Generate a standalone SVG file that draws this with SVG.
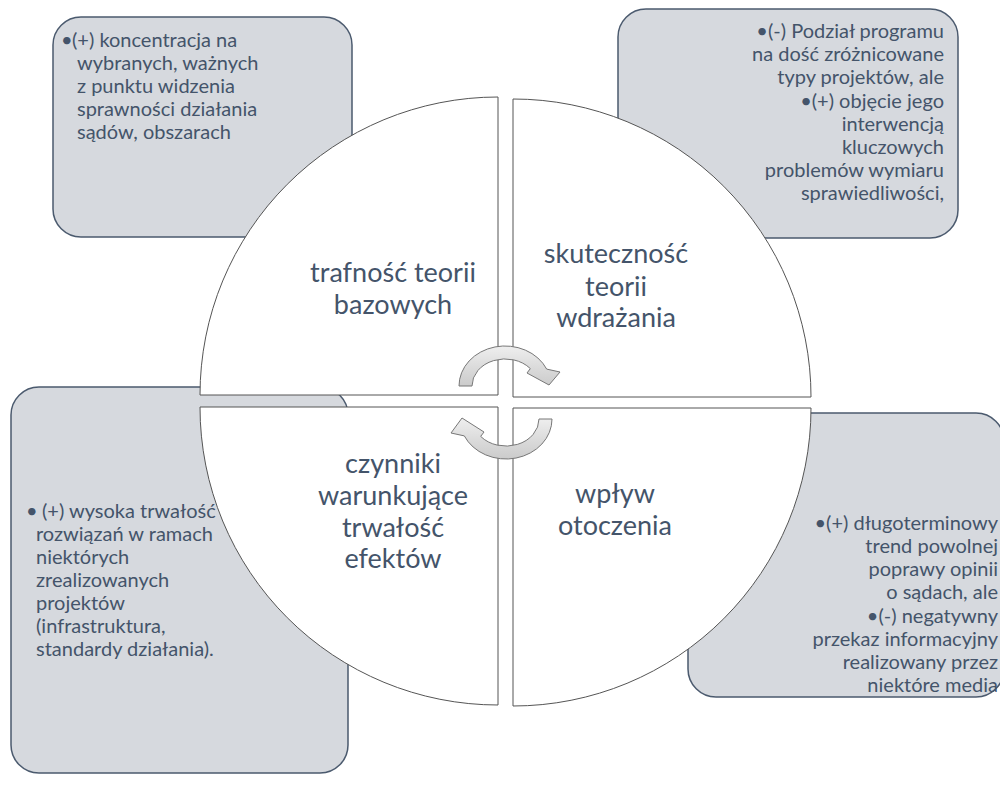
<svg xmlns="http://www.w3.org/2000/svg" width="1000" height="787" viewBox="0 0 1000 787">
<style>
.box{fill:#D6D9DE;stroke:#4B5A6E;stroke-width:1.5}
.quad{fill:#FFFFFF;stroke:#555555;stroke-width:1}
.arrow{fill:url(#ag);stroke:#777777;stroke-width:1}
.t{font-family:Lato,"Liberation Sans",sans-serif;font-size:20px;fill:#44546A}
.lbl{font-family:Lato,"Liberation Sans",sans-serif;font-size:27px;fill:#44546A;text-anchor:middle}
.r{text-anchor:end}
</style>
<defs>
<linearGradient id="ag" x1="0" y1="0" x2="0" y2="1">
<stop offset="0" stop-color="#EFEFEF"/>
<stop offset="0.5" stop-color="#DCDCDC"/>
<stop offset="1" stop-color="#CBCBCB"/>
</linearGradient>
</defs>
<rect width="1000" height="787" fill="#FFFFFF"/>
<g id="box-tl"><rect class="box" x="53" y="17" width="299" height="220" rx="28"/>
<text class="t" x="61" y="47">•</text>
<text class="t" x="72" y="47">(+) koncentracja na</text>
<text class="t" x="77" y="70">wybranych, ważnych</text>
<text class="t" x="77" y="93">z punktu widzenia</text>
<text class="t" x="77" y="116">sprawności działania</text>
<text class="t" x="77" y="139">sądów, obszarach</text>
</g>
<g id="box-tr"><rect class="box" x="618" y="9" width="340" height="229" rx="28"/>
<text class="t r" x="944" y="38">•(-) Podział programu</text>
<text class="t r" x="944" y="61">na dość zróżnicowane</text>
<text class="t r" x="944" y="84">typy projektów, ale</text>
<text class="t r" x="944" y="108">•(+) objęcie jego</text>
<text class="t r" x="944" y="131">interwencją</text>
<text class="t r" x="944" y="154">kluczowych</text>
<text class="t r" x="944" y="177">problemów wymiaru</text>
<text class="t r" x="944" y="200">sprawiedliwości,</text>
</g>
<g id="box-bl"><rect class="box" x="11" y="387" width="337" height="386" rx="28"/>
<text class="t" x="26" y="518">•</text>
<text class="t" x="42" y="518">(+) wysoka trwałość</text>
<text class="t" x="36" y="541">rozwiązań w ramach</text>
<text class="t" x="36" y="564">niektórych</text>
<text class="t" x="36" y="587">zrealizowanych</text>
<text class="t" x="36" y="610">projektów</text>
<text class="t" x="36" y="633">(infrastruktura,</text>
<text class="t" x="36" y="656">standardy działania).</text>
</g>
<g id="box-br"><rect class="box" x="688" y="413" width="316" height="284" rx="28"/>
<text class="t r" x="998" y="530">•(+) długoterminowy</text>
<text class="t r" x="998" y="553">trend powolnej</text>
<text class="t r" x="998" y="576">poprawy opinii</text>
<text class="t r" x="998" y="599">o sądach, ale</text>
<text class="t r" x="998" y="623">•(-) negatywny</text>
<text class="t r" x="998" y="646">przekaz informacyjny</text>
<text class="t r" x="998" y="669">realizowany przez</text>
<text class="t r" x="998" y="692">niektóre media</text>
</g>
<g id="quad-tl"><path class="quad" d="M498,395 L200,395 A298,298 0 0,1 498,97 Z"/>
<text class="lbl" x="393" y="282">trafność teorii</text>
<text class="lbl" x="393" y="314">bazowych</text>
</g>
<g id="quad-tr"><path class="quad" d="M513,397 L513,99 A298,298 0 0,1 811,397 Z"/>
<text class="lbl" x="616" y="263">skuteczność</text>
<text class="lbl" x="616" y="296">teorii</text>
<text class="lbl" x="616" y="327">wdrażania</text>
</g>
<g id="quad-bl"><path class="quad" d="M498,407 L498,705 A298,298 0 0,1 200,407 Z"/>
<text class="lbl" x="393" y="473">czynniki</text>
<text class="lbl" x="393" y="505">warunkujące</text>
<text class="lbl" x="393" y="537">trwałość</text>
<text class="lbl" x="393" y="568">efektów</text>
</g>
<g id="quad-br"><path class="quad" d="M513,408 L811,408 A298,298 0 0,1 513,706 Z"/>
<text class="lbl" x="615" y="503">wpływ</text>
<text class="lbl" x="615" y="535">otoczenia</text>
</g>
<g id="connectors">
<path class="arrow" d="M459,386 A46,40 0 0,1 546.7,369.1 L560,372 L549,385 L527,373 L530.3,368.6 A33,27 0 0,0 472,386 Z"/>
<path class="arrow" d="M552,419 A46,40 0 0,1 464.3,435.9 L451,433 L462,418 L484,432 L480.7,436.4 A33,27 0 0,0 539,419 Z"/>
</g>
</svg>
